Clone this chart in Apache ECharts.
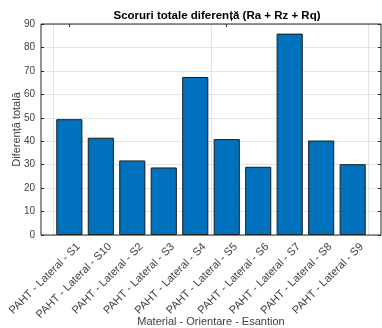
<!DOCTYPE html>
<html><head><meta charset="utf-8">
<script src="https://cdn.jsdelivr.net/npm/echarts@6/dist/echarts.min.js"></script>
<style>html,body{margin:0;padding:0;background:#fff}#c{width:382px;height:328px}</style>
</head><body><div id="c"></div>
<script>
const categories = ['PAHT - Lateral - S1','PAHT - Lateral - S10','PAHT - Lateral - S2','PAHT - Lateral - S3','PAHT - Lateral - S4','PAHT - Lateral - S5','PAHT - Lateral - S6','PAHT - Lateral - S7','PAHT - Lateral - S8','PAHT - Lateral - S9'];
const values = [49.4, 41.5, 31.8, 28.8, 67.4, 40.9, 29.1, 85.9, 40.3, 30.2];
const yTicks = {min: 0, max: 90, interval: 10};

const font = 'Liberation Sans, Arial, Helvetica, sans-serif';
const axisColor = '#262626';
const gridColor = '#e3e3e3';
const textColor = '#404040';
const chart = echarts.init(document.getElementById('c'), null, {renderer: 'canvas'});
chart.setOption({
  animation: false,
  backgroundColor: '#fff',
  title: {
    text: 'Scoruri totale diferență (Ra + Rz + Rq)',
    left: 212, top: 5, textAlign: 'center',
    textStyle: {fontFamily: font, fontSize: 11.5, fontWeight: 'bold', color: '#000'}
  },
  grid: [
    {left: 41, right: 1, top: 24, height: 211, show: true, borderColor: axisColor, borderWidth: 1, backgroundColor: 'transparent', z: 5, outerBoundsMode: 'none', containLabel: false},
    {left: 53.6, right: 13.6, top: 24, height: 211, outerBoundsMode: 'none', containLabel: false},
    {left: 62.6, right: 4.6, top: 24, height: 211, outerBoundsMode: 'none', containLabel: false}
  ],
  xAxis: [
    {gridIndex: 0, type: 'value', min: 0, max: 1,
      axisLine: {show: false}, axisTick: {show: false}, axisLabel: {show: false}, splitLine: {show: false},
      name: 'Material - Orientare - Esantion', nameLocation: 'middle', nameGap: 81, nameMoveOverlap: false,
      nameTextStyle: {fontFamily: font, fontSize: 11, color: textColor}
    },
    {gridIndex: 1, type: 'category', data: categories, position: 'bottom',
      axisLine: {show: false},
      axisTick: {show: true, inside: true, alignWithLabel: true, length: 3, lineStyle: {color: axisColor}},
      splitLine: {show: false},
      axisLabel: {show: false}
    },
    {gridIndex: 1, type: 'category', data: categories, position: 'top',
      axisLine: {show: false},
      axisTick: {show: true, inside: true, alignWithLabel: true, length: 3, lineStyle: {color: axisColor}},
      splitLine: {show: true, lineStyle: {color: gridColor, width: 1}},
      axisLabel: {show: false}
    },
    {gridIndex: 2, type: 'category', data: categories, position: 'bottom',
      axisLine: {show: false}, axisTick: {show: false}, splitLine: {show: false},
      axisLabel: {rotate: 45, interval: 0, margin: 10, fontFamily: font, fontSize: 11, color: textColor}
    }
  ],
  yAxis: [
    {gridIndex: 0, type: 'value', min: yTicks.min, max: yTicks.max, interval: yTicks.interval, position: 'left',
      axisLine: {show: false},
      axisTick: {show: true, inside: true, length: 3, lineStyle: {color: axisColor}},
      splitLine: {show: true, lineStyle: {color: gridColor, width: 1}},
      axisLabel: {margin: 6, fontFamily: font, fontSize: 10, color: textColor},
      name: 'Diferență totală', nameLocation: 'middle', nameGap: 19, nameMoveOverlap: false,
      nameTextStyle: {fontFamily: font, fontSize: 11, color: textColor}
    },
    {gridIndex: 0, type: 'value', min: yTicks.min, max: yTicks.max, interval: yTicks.interval, position: 'right',
      axisLine: {show: false},
      axisTick: {show: true, inside: true, length: 3, lineStyle: {color: axisColor}},
      splitLine: {show: false}, axisLabel: {show: false}
    },
    {gridIndex: 1, type: 'value', min: yTicks.min, max: yTicks.max, interval: yTicks.interval, show: false},
    {gridIndex: 2, type: 'value', min: yTicks.min, max: yTicks.max, interval: yTicks.interval, show: false}
  ],
  series: [{
    type: 'bar', xAxisIndex: 1, yAxisIndex: 2, data: values,
    barWidth: '83%',
    itemStyle: {color: '#0072BD', borderColor: '#1a1a1a', borderWidth: 1},
    z: 3
  }]
});
</script></body></html>
